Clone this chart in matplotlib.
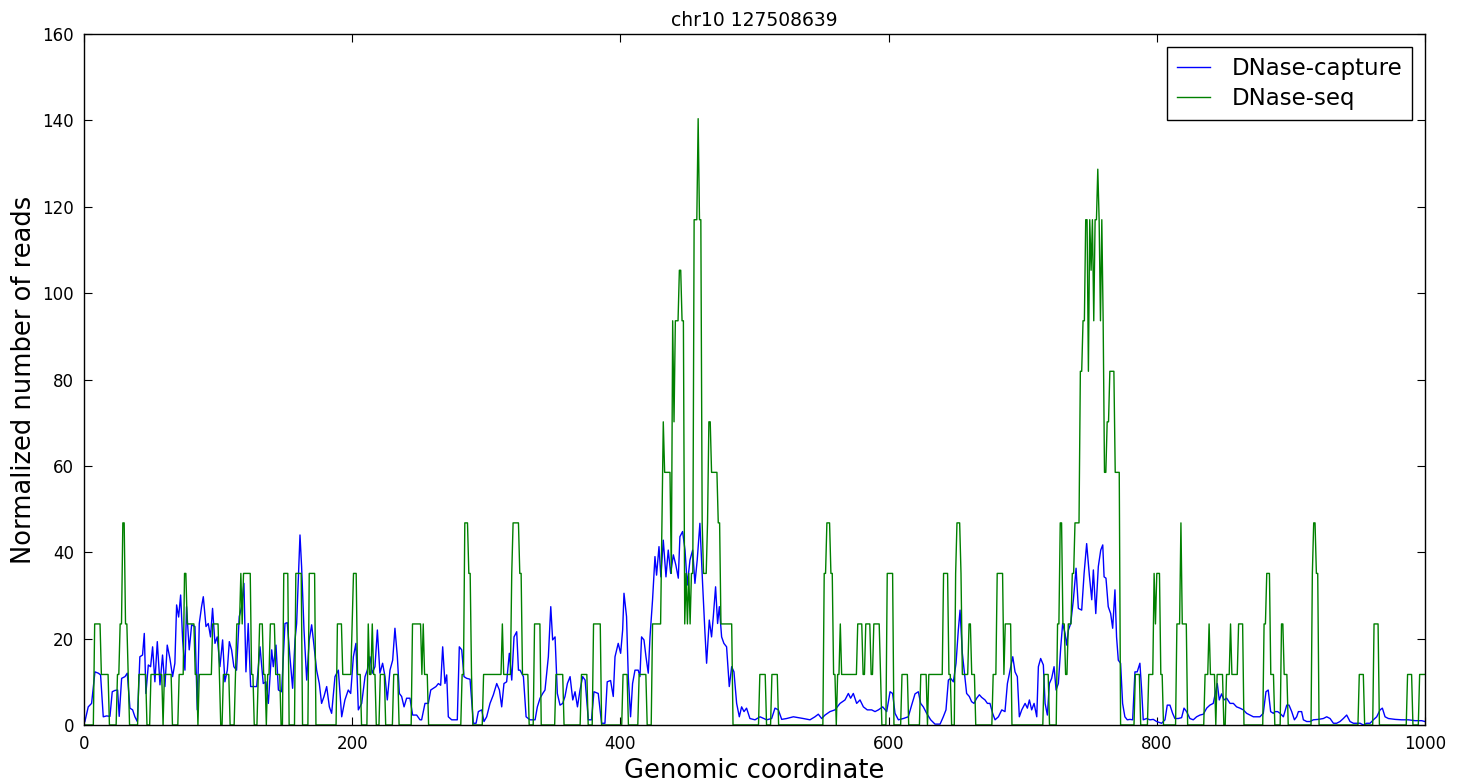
import matplotlib
matplotlib.use('Agg')
import matplotlib.pyplot as plt

# DNase-capture coverage (position, normalized reads)
capture_pos = [
    0, 0.7, 3.2, 5.7, 8.2, 10.7, 12.4, 14.4, 16.9, 19.4, 21.1, 23.1, 25.1, 26.3, 28.1, 30.6, 32.3, 34.3,
    36.3, 38, 39.8, 41.7, 43.7, 45, 46.2, 48, 49.7, 51.2, 52.9, 54.7, 56.7, 58.6, 60.4, 62.1, 64.1, 66.1,
    67.8, 69.1, 70.6, 72.1, 73.6, 75.3, 76.5, 78.5, 80.3, 82.8, 84.5, 86, 87.7, 89, 91, 92.7, 94.4, 95.9,
    97.7, 99.4, 101.4, 103.4, 105.1, 106.9, 108.4, 110.1, 111.8, 113.8, 115.8, 117.6, 119.3, 120.8, 122.5,
    124.3, 126.3, 128.8, 131.3, 133.7, 135.7, 137.5, 140, 141.2, 143.2, 145, 147.4, 149.9, 151.6, 153.6,
    155.6, 157.4, 158.6, 161.1, 162.3, 164.1, 166.1, 168, 169.8, 171.5, 173.5, 175.5, 177.2, 179, 181,
    183, 184.7, 187.2, 189.7, 192.2, 194.6, 197.1, 198.9, 200.9, 202.8, 204.6, 207.1, 209.6, 211.3, 213.3,
    215, 217, 218.8, 220.7, 222.7, 224.5, 226.2, 228.2, 230.2, 231.9, 233.7, 235.2, 236.9, 238.7, 240.6,
    243.1, 245.1, 248.1, 250.6, 251.8, 254.3, 256.8, 258.6, 260.5, 262.5, 264.3, 266, 267.5, 269.2, 270.5,
    271.7, 274.2, 276.7, 278.4, 279.9, 281.7, 283.4, 285.4, 287.9, 290.4, 292.4, 294.1, 296.6, 298.3,
    300.3, 302.8, 305.3, 307.8, 309.8, 311.5, 313.2, 315.2, 317.2, 319, 320.7, 322.7, 324, 325.2, 327.7,
    329.7, 332.6, 336.4, 338.1, 340.1, 342.1, 343.8, 346.3, 348.1, 349.5, 351.3, 353, 355, 357, 358.7,
    360.5, 362.5, 364.5, 366.2, 368, 369.9, 371.9, 373.7, 376.1, 378.5, 380.3, 383.5, 386, 388.5, 390.2,
    392.7, 394.7, 396, 398.4, 400.2, 401.7, 402.7, 404.6, 405.9, 407.6, 409.1, 410.9, 413.3, 414.6, 415.8,
    417.6, 419.1, 420.8, 422.1, 424, 425.8, 427, 428.8, 430.2, 432, 434, 435.7, 437.5, 439.5, 441.4,
    443.2, 444.4, 446.4, 448.2, 449.9, 451.9, 453.9, 455.6, 457.3, 459.3, 461.3, 463.1, 464.3, 466.3, 468,
    469.3, 471, 472.5, 473.8, 475.5, 477.2, 479.2, 481.2, 483, 484.7, 486.7, 488.7, 490.4, 492.2, 494.1,
    496.6, 500.4, 504.1, 509.1, 512.8, 515.3, 517.8, 520.3, 524, 529, 532.7, 536.4, 541.4, 545.1, 547.6,
    550.1, 552.6, 556.3, 560, 563.8, 567.5, 570, 571.7, 573.7, 576.2, 578.7, 581.2, 584.1, 587.4, 589.9,
    592.4, 595.6, 598.6, 601.1, 603, 604.8, 607.3, 611, 614.7, 617.2, 619.7, 622.2, 623.9, 625.9, 628.4,
    631.4, 634.6, 638.4, 640.8, 642.8, 644.6, 646.3, 648.3, 650.3, 652, 653.3, 655, 656.5, 658.2, 660.2,
    661.9, 663.7, 665.7, 667.7, 669.4, 671.9, 673.7, 675.6, 677.6, 679.4, 681.9, 684.4, 686.8, 688.6,
    690.6, 692.6, 694.3, 696, 697.5, 699.3, 701.8, 703.5, 705, 706.7, 708.5, 710.5, 711.7, 713.4, 715.4,
    716.7, 718.4, 719.9, 721.6, 723.4, 724.9, 726.6, 728.4, 729.8, 731.6, 732.8, 734.1, 735.8, 737.8,
    739.8, 741.5, 744, 745.8, 747.7, 749.7, 751.5, 752.7, 754.5, 756.4, 758.2, 759.7, 760.7, 762.1, 763.8,
    765.6, 767.1, 768.8, 770, 771.3, 773, 774.5, 776.2, 778, 780, 782, 783.7, 785.4, 787.4, 788.7, 789.9,
    792.4, 794.9, 797.4, 799.9, 803.6, 806.1, 807.8, 809.8, 811.8, 813.5, 816, 818.5, 820.3, 822.2, 824.7,
    827.2, 829.7, 832.2, 834.7, 837.2, 839.6, 842.1, 844.1, 845.1, 846.6, 848.3, 850.1, 852.1, 854.6,
    857.1, 859.5, 862, 864.5, 867, 869.5, 872, 874.4, 876.9, 879.4, 881.4, 883.1, 884.9, 886.9, 888.2,
    890.1, 891.9, 894.4, 896.9, 898.6, 900.6, 902.6, 904.3, 905.6, 908, 909.3, 911.8, 914.3, 916.7, 920.5,
    924.2, 926.7, 929.2, 931.7, 934.1, 936.6, 939.1, 941.6, 944.1, 946.6, 949.1, 951.6, 954, 956.5, 959,
    961.5, 964, 966.5, 968.2, 970.2, 972.7, 977.7, 982.6, 987.6, 992.6, 997.5, 1000,
]
capture_val = [
    0.5, 0.8, 4.2, 5, 12.3, 12, 11.6, 1.9, 2.1, 2, 7.7, 8, 8.1, 2, 10.8, 11.2, 12, 3.9,
    3.5, 1.9, 0.8, 15.8, 16.2, 21.2, 7.3, 13.9, 13.5, 18.1, 10, 19.3, 9.3, 16.2, 8.9, 18.5, 15.4, 11.2,
    14.3, 27.8, 25, 30.1, 19.7, 12.7, 27.4, 17.4, 23.2, 22.8, 3.5, 23.5, 27.4, 29.7, 22.8, 23.5, 20.4, 27,
    18.9, 20.4, 13.5, 19.7, 10, 12.7, 19.3, 17.4, 13.5, 12.7, 25.1, 27.4, 32.8, 12.3, 23.5,
    8.9, 8.9, 8.9, 18.1, 9.6, 10, 5, 17.4, 13.5, 18.5, 8.1, 7.7, 23.5, 23.7, 15.8,
    8.5, 19.7, 23.5, 44, 36.7, 22, 10.4, 19.7, 23.2, 18.5, 12.7, 9.6, 5, 6.6, 8.9,
    4.2, 2.7, 11.2, 12.7, 1.9, 5.8, 8.1, 7.3, 15.8, 18.9, 3.5, 5, 11.2, 12.7, 15.8,
    12, 13.5, 22, 12, 14.3, 11.2, 5.8, 12.7, 15, 22.4, 15.8, 7.3, 6.6, 4.2, 6.2,
    6.2, 2.3, 2.3, 1.2, 1.2, 5, 5, 8.1, 8.5, 8.9, 9.6, 9.2, 18.1, 9.6, 11.6,
    1.9, 1.2, 1.2, 1.2, 18.1, 17.4, 11.2, 10.8, 10.6, 0.4, 0.4, 3.1, 3.5, 0.8,
    1.9, 5, 7, 9.6, 8.1, 4.2, 9.6, 10, 16.6, 10.4, 20.4, 21.6, 12.7, 12.7, 11.2,
    1.9, 1.2, 1.2, 4.2, 6.2, 7.3, 8.1, 15.8, 27.4, 19.7, 20.4, 7.3, 4.6, 5, 6.6,
    9.6, 11.2, 5.8, 7.7, 4.2, 8.1, 11.2, 10.4, 1.2, 1.2, 7.7, 7.3, 0.4, 0.4, 10,
    10.3, 6.6, 15.8, 18.9, 16.6, 22, 30.5, 25.1, 11.2, 1.9, 9.6, 12.7, 12.7, 11.2, 20.4,
    19.7, 15.8, 12, 20.4, 29, 39, 34.7, 41.3, 34.3, 42.8, 34.3, 40.5, 35.1, 39.4, 37,
    34, 43.6, 44.8, 40.5, 32.4, 38.2, 40.5, 32.8, 38.2, 46.7, 32.8, 21.2, 14.3, 24.3, 20.4,
    25.1, 32, 23.5, 27.4, 20.4, 18.9, 18.1, 8.9, 13.5, 12.3, 5, 1.9, 4.2, 3.1, 3.9,
    1.5, 1.2, 1.9, 1.2, 1.5, 3.9, 3.5, 1.3, 1.5, 1.9, 1.7, 1.5, 1.2, 1.9, 2.5,
    1.5, 2.3, 3.1, 3.5, 5, 5.8, 7.3, 6.2, 7.3, 5, 5.8, 4.2, 3.5, 3.5, 3.1,
    3.5, 4.2, 3.1, 7.7, 7.3, 2.7, 1.2, 1.5, 1.9, 4.6, 7.2, 7.7, 5, 4.2, 2.7,
    1.2, 0.2, 0.2, 1.9, 3.5, 10.4, 10.8, 10, 14.3, 22, 26.6, 16.6, 12.3, 7.3, 6.6,
    5.4, 5, 6.2, 7, 6.4, 5.8, 5, 5, 2.7, 1.2, 1.9, 3.5, 3.1, 9.6,
    12.7, 15.8, 12.3, 11.2, 1.9, 3.5, 5, 3.9, 5.8, 3.5, 5, 1.9, 13.5, 15.4, 13.9,
    5, 2.3, 9.6, 10.8, 13.5, 8.1, 9.6, 18.1, 23.5, 21.2, 18.5, 22, 23.5, 29,
    36.3, 27, 26.6, 35.1, 42, 34.7, 29, 35.9, 25.8, 36.7, 40.5, 41.7, 34.3, 34, 27.4,
    25.8, 22.4, 31.3, 20.4, 15, 14.3, 5, 1.9, 1.2, 1.3, 1.2, 12.3, 12.3, 14.3, 8.1, 1.2,
    1.5, 1.2, 1.3, 0.8, 0.4, 1.2, 4.6, 4.6, 2.7, 1.5, 1.5, 1.7, 3.9, 3.1, 1.5,
    1.2, 1.9, 2.3, 2.5, 3.9, 4.6, 5, 8.1, 9.6, 5.8, 7.2, 5.8, 6.2, 5,
    5, 4.2, 3.9, 3.5, 2.7, 2.3, 1.9, 1.9, 1.9, 2.7, 7.7, 8.1, 3.1, 2.7, 3.1,
    3.1, 2.7, 1.9, 4.6, 4.6, 3.1, 1.2, 1.9, 3.1, 3.1, 1.2, 0.8, 0.8, 1.2, 1.3,
    1.5, 1.9, 1.5, 0.4, 0.4, 0.8, 1.5, 2.3, 0.8, 0.4, 0.4, 0.4, 0, 0.4, 0.4,
    1.2, 1.9, 3.5, 3.9, 1.9, 1.5, 1.3, 1.2, 1.2, 1.0, 1.0, 0.8,
]

# DNase-seq coverage: runs of (start, end, read count); counts scale by seq_norm
seq_norm = 11.7
seq_runs = [
    (0, 7, 0), (8, 12, 2), (13, 18, 1), (19, 24, 0), (25, 26, 1), (27, 28, 2), (29, 30, 4), (31, 32, 2),
    (33, 33, 1), (34, 40, 0), (41, 46, 1), (47, 49, 0), (50, 58, 1), (59, 59, 0), (60, 65, 1), (66, 70, 0),
    (71, 74, 1), (75, 76, 3), (77, 82, 2), (83, 84, 1), (85, 85, 0), (86, 95, 1), (96, 100, 2), (101, 101, 1),
    (102, 103, 0), (104, 108, 1), (109, 112, 0), (113, 113, 1), (114, 116, 2), (117, 117, 3), (118, 118, 2),
    (119, 124, 3), (125, 126, 1), (127, 129, 0), (130, 130, 1), (131, 133, 2), (134, 135, 1), (136, 136, 0),
    (137, 138, 1), (139, 142, 2), (143, 146, 1), (147, 148, 0), (149, 152, 3), (153, 157, 0), (158, 162, 3),
    (163, 167, 0), (168, 172, 3), (173, 188, 0), (189, 192, 2), (193, 199, 1), (200, 200, 2), (201, 203, 3),
    (204, 206, 1), (207, 211, 0), (212, 212, 2), (213, 214, 1), (215, 215, 2), (216, 217, 1), (218, 220, 0),
    (221, 224, 1), (225, 230, 0), (231, 234, 1), (235, 244, 0), (245, 251, 2), (252, 252, 1), (253, 253, 2),
    (254, 256, 1), (257, 281, 0), (282, 283, 1), (284, 286, 4), (287, 288, 3), (289, 289, 1), (290, 297, 0),
    (298, 311, 1), (312, 312, 2), (313, 318, 1), (319, 319, 3), (320, 324, 4), (325, 326, 3), (327, 331, 1),
    (332, 335, 0), (336, 340, 2), (341, 351, 0), (352, 357, 1), (358, 370, 0), (371, 375, 1), (376, 379, 0),
    (380, 385, 2), (386, 401, 0), (402, 405, 1), (406, 413, 0), (414, 419, 1), (420, 423, 0), (424, 430, 2),
    (431, 431, 4), (432, 432, 6), (433, 437, 5), (438, 438, 3), (439, 439, 8), (440, 440, 6), (441, 443, 8),
    (444, 445, 9), (446, 447, 8), (448, 448, 2), (449, 449, 3), (450, 450, 2), (451, 451, 3), (452, 452, 2),
    (453, 454, 3), (455, 457, 10), (458, 458, 12), (459, 460, 10), (461, 461, 4), (462, 464, 3), (465, 465, 4),
    (466, 467, 6), (468, 472, 5), (473, 474, 4), (475, 483, 2), (484, 503, 0), (504, 508, 1), (509, 512, 0),
    (513, 517, 1), (518, 551, 0), (552, 553, 3), (554, 556, 4), (557, 558, 3), (559, 560, 1), (561, 561, 0),
    (562, 563, 1), (564, 564, 2), (565, 576, 1), (577, 580, 2), (581, 582, 1), (583, 586, 2), (587, 588, 1),
    (589, 593, 2), (594, 594, 1), (595, 598, 0), (599, 603, 3), (604, 609, 0), (610, 614, 1), (615, 623, 0),
    (624, 628, 1), (629, 629, 0), (630, 640, 1), (641, 644, 3), (645, 646, 1), (647, 649, 0), (650, 650, 3),
    (651, 653, 4), (654, 654, 3), (655, 659, 1), (660, 661, 2), (662, 664, 1), (665, 677, 0), (678, 680, 1),
    (681, 685, 3), (686, 686, 1), (687, 691, 2), (692, 715, 0), (716, 719, 1), (720, 725, 0), (726, 727, 2),
    (728, 729, 4), (730, 731, 2), (732, 733, 1), (734, 736, 2), (737, 738, 3), (739, 742, 4), (743, 744, 7),
    (745, 746, 8), (747, 748, 10), (749, 749, 7), (750, 750, 10), (751, 751, 9), (752, 752, 10), (753, 753, 8),
    (754, 755, 10), (756, 756, 11), (757, 757, 10), (758, 758, 8), (759, 759, 10), (760, 760, 8), (761, 762, 5),
    (763, 764, 6), (765, 768, 7), (769, 772, 5), (773, 783, 0), (784, 787, 1), (788, 793, 0), (794, 797, 1),
    (798, 798, 3), (799, 799, 2), (800, 802, 3), (803, 804, 1), (805, 814, 0), (815, 817, 2), (818, 818, 4),
    (819, 822, 2), (823, 835, 0), (836, 838, 1), (839, 839, 2), (840, 843, 1), (844, 844, 0), (845, 849, 1),
    (850, 851, 0), (852, 854, 1), (855, 855, 2), (856, 860, 1), (861, 864, 2), (865, 879, 0), (880, 881, 2),
    (882, 884, 3), (885, 887, 1), (888, 892, 0), (893, 894, 2), (895, 897, 1), (898, 915, 0), (916, 916, 3),
    (917, 918, 4), (919, 920, 3), (921, 950, 0), (951, 954, 1), (955, 961, 0), (962, 965, 2), (966, 986, 0),
    (987, 990, 1), (991, 995, 0), (996, 1000, 1),
]

seq_x = []
seq_y = []
for start, end, count in seq_runs:
    seq_x += [start, end]
    seq_y += [count * seq_norm] * 2

plt.rcParams['font.family'] = 'DejaVu Sans'
fig = plt.figure(figsize=(14.65, 7.82), dpi=100)
ax = fig.add_axes([0.0573, 0.0729, 0.9154, 0.8836])

ax.plot(capture_pos, capture_val, '-', color='blue', lw=1.0, label='DNase-capture')
ax.plot(seq_x, seq_y, '-', color='green', lw=1.0, label='DNase-seq')

ax.set_xlim(0, 1000)
ax.set_ylim(0, 160)
ax.set_xticks(range(0, 1001, 200))
ax.set_yticks(range(0, 161, 20))
ax.tick_params(direction='in', top=True, right=True, length=6, labelsize=12, pad=7)
for s in ax.spines.values():
    s.set_linewidth(1.0)

ax.set_xlabel('Genomic coordinate', fontsize=18.5)
ax.set_ylabel('Normalized number of reads', fontsize=18.5)
ax.set_title('chr10 127508639', fontsize=13.5, pad=6)

leg = ax.legend(loc='upper right', fontsize=16.5, fancybox=False, framealpha=1,
                edgecolor='black', handlelength=1.4, handletextpad=0.95,
                borderpad=0.45, labelspacing=0.3, borderaxespad=0.55)
leg.get_frame().set_linewidth(1.0)

fig.savefig('out.png', dpi=100, facecolor='white')
